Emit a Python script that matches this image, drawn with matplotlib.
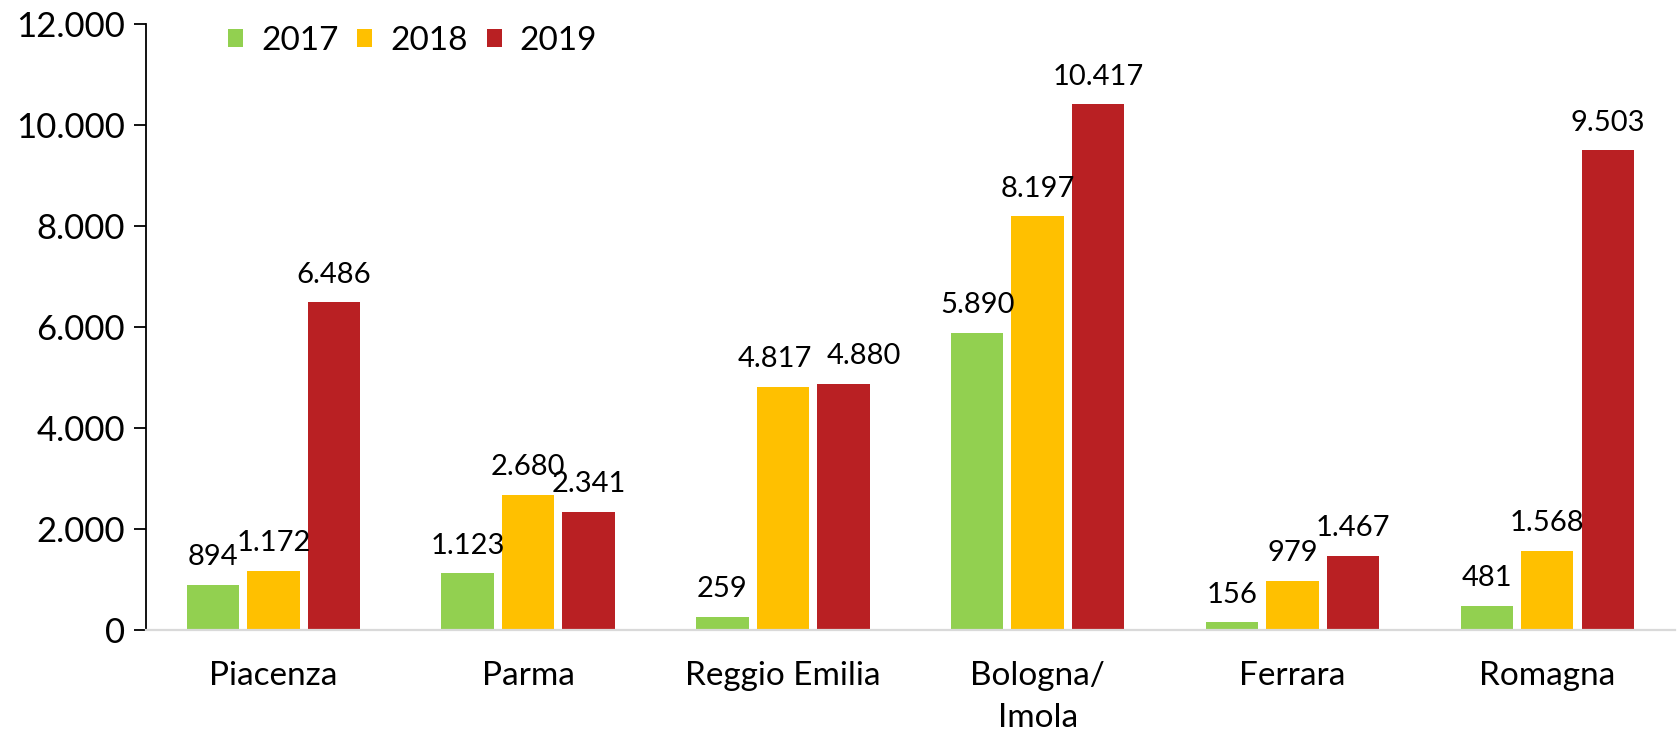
import matplotlib.pyplot as plt
import numpy as np
from matplotlib.ticker import FuncFormatter

plt.rcParams['font.family'] = ['Lato', 'DejaVu Sans']

categories = ['Piacenza', 'Parma', 'Reggio Emilia', 'Bologna/\nImola', 'Ferrara', 'Romagna']
years = ['2017', '2018', '2019']
v2017 = [894, 1123, 259, 5890, 156, 481]
v2018 = [1172, 2680, 4817, 8197, 979, 1568]
v2019 = [6486, 2341, 4880, 10417, 1467, 9503]
series = [v2017, v2018, v2019]
colors = ['#92d050', '#ffc000', '#b92023']

# a few labels are nudged sideways in the original so they don't collide
label_dx = {(2, 1): -6, (2, 2): 15}


def fmt(v):
    return f'{v:,.0f}'.replace(',', '.')


fig = plt.figure(figsize=(16.78, 7.39), dpi=100)
ax = fig.add_axes([0.087, 0.1475, 0.911, 0.82])

x = np.arange(len(categories))
pitch = 0.2375
width = 0.206
for i, (vals, col, yr) in enumerate(zip(series, colors, years)):
    xs = x + (i - 1) * pitch
    ax.bar(xs, vals, width, color=col, label=yr)
    for j, (xx, v) in enumerate(zip(xs, vals)):
        ax.annotate(fmt(v), (xx, v), xytext=(label_dx.get((j, i), 0), 14),
                    textcoords='offset points', ha='center', va='baseline', fontsize=21)

ax.set_xlim(-0.5, len(categories) - 0.5)
ax.set_ylim(0, 12000)
ax.set_yticks(range(0, 12001, 2000))
ax.yaxis.set_major_formatter(FuncFormatter(lambda v, p: fmt(v)))
ax.set_xticks(x)
ax.set_xticklabels(categories, fontsize=24, linespacing=1.5)
ax.tick_params(axis='x', length=0, pad=22)
ax.tick_params(axis='y', labelsize=25, length=9, width=1.3, direction='out', pad=6)

for s in ['top', 'right']:
    ax.spines[s].set_visible(False)
ax.spines['left'].set_linewidth(1.3)
ax.spines['bottom'].set_color('#d9d9d9')
ax.spines['bottom'].set_linewidth(1.6)

fig.legend(loc='center', bbox_to_anchor=(0.246, 0.945), ncol=3, frameon=False,
           fontsize=24, handlelength=0.45, handleheight=0.45, handletextpad=0.55,
           columnspacing=0.55)

fig.savefig('out.png', dpi=100)
